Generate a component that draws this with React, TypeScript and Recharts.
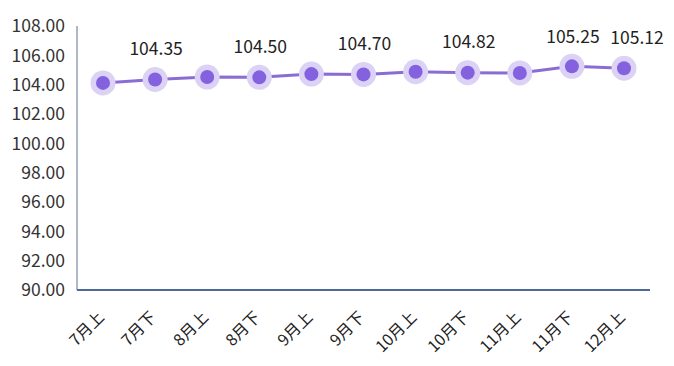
import { CartesianGrid, LabelList, Line, LineChart, XAxis, YAxis } from "recharts";

const periods = ["7月上", "7月下", "8月上", "8月下", "9月上", "9月下", "10月上", "10月下", "11月上", "11月下", "12月上"];
const prices = [104.12, 104.35, 104.52, 104.5, 104.72, 104.7, 104.88, 104.82, 104.8, 105.25, 105.12];
const shownLabels = ["", "104.35", "", "104.50", "", "104.70", "", "104.82", "", "105.25", "105.12"];
const yTicks = [90, 92, 94, 96, 98, 100, 102, 104, 106, 108];

const data = periods.map((p, i) => ({ period: p, price: prices[i], label: shownLabels[i] }));

const font = '"Microsoft YaHei", "Noto Sans CJK SC", "Noto Sans", sans-serif';

function HaloDot(props: any) {
  const { cx, cy, index } = props;
  return (
    <g key={index}>
      <circle cx={cx} cy={cy} r={12.5} fill="#dcd2f5" />
      <circle cx={cx} cy={cy} r={7} fill="#8462df" />
    </g>
  );
}

function XTick(props: any) {
  const { x, y, payload } = props;
  const tx = x - 1;
  const ty = y + 17;
  return (
    <text
      x={tx}
      y={ty}
      transform={`rotate(-45 ${tx} ${ty})`}
      textAnchor="end"
      dominantBaseline="middle"
      fontSize={16}
      fill="#222"
      fontFamily={font}
    >
      {payload.value}
    </text>
  );
}

// value labels sit above the point; the last one is nudged right like the original
function PointLabel(props: any) {
  const { x, y, value, index } = props;
  if (!value) return null;
  const dx = index === periods.length - 1 ? 13 : 1;
  const dy = index === periods.length - 2 ? -28 : -29;
  return (
    <text
      x={x + dx}
      y={y + dy}
      textAnchor="middle"
      dominantBaseline="middle"
      fontSize={17.5}
      fill="#222"
      fontFamily={font}
    >
      {value}
    </text>
  );
}

export default function App() {
  return (
    <div style={{ position: "absolute", left: 0, top: 0, background: "#fff" }}>
      <LineChart width={674} height={366} data={data} margin={{ top: 26, right: 24, left: 0, bottom: 0 }}>
        <CartesianGrid horizontal={false} vertical={false} />
        <XAxis
          dataKey="period"
          height={76}
          interval={0}
          padding={{ left: 26, right: 26 }}
          tickLine={false}
          axisLine={{ stroke: "#4a6a9a", strokeWidth: 2 }}
          tick={<XTick />}
        />
        <YAxis
          width={77}
          domain={[90, 108]}
          ticks={yTicks}
          interval={0}
          tickLine={false}
          tickMargin={6}
          axisLine={{ stroke: "#5b7094", strokeWidth: 1 }}
          tickFormatter={(v: number) => v.toFixed(2)}
          tick={{ fill: "#333", fontSize: 17.5, fontFamily: font }}
        />
        <Line
          type="linear"
          dataKey="price"
          stroke="#8a6dd3"
          strokeWidth={3}
          dot={<HaloDot />}
          activeDot={false}
          isAnimationActive={false}
        >
          <LabelList dataKey="label" content={<PointLabel />} />
        </Line>
      </LineChart>
    </div>
  );
}
